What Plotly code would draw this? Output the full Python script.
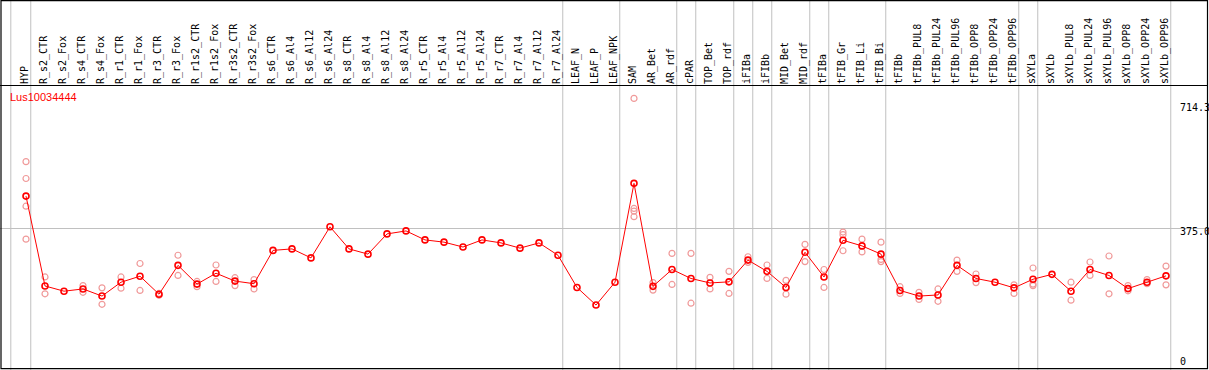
import plotly.graph_objects as go

categories = ["HYP", "R_s2_CTR", "R_s2_Fox", "R_s4_CTR", "R_s4_Fox", "R_r1_CTR", "R_r1_Fox",
              "R_r3_CTR", "R_r3_Fox", "R_r1s2_CTR", "R_r1s2_Fox", "R_r3s2_CTR", "R_r3s2_Fox",
              "R_s6_CTR", "R_s6_Al4", "R_s6_Al12", "R_s6_Al24", "R_s8_CTR", "R_s8_Al4",
              "R_s8_Al12", "R_s8_Al24", "R_r5_CTR", "R_r5_Al4", "R_r5_Al12", "R_r5_Al24",
              "R_r7_CTR", "R_r7_Al4", "R_r7_Al12", "R_r7_Al24", "LEAF_N", "LEAF_P", "LEAF_NPK",
              "SAM", "AR_Bet", "AR_rdf", "cPAR", "TOP_Bet", "TOP_rdf", "iFIBa", "iFIBb",
              "MID_Bet", "MID_rdf", "tFIBa", "tFIB_Gr", "tFIB_Li", "tFIB_Bi", "tFIBb",
              "tFIBb_PUL8", "tFIBb_PUL24", "tFIBb_PUL96", "tFIBb_OPP8", "tFIBb_OPP24",
              "tFIBb_OPP96", "sXYLa", "sXYLb", "sXYLb_PUL8", "sXYLb_PUL24", "sXYLb_PUL96",
              "sXYLb_OPP8", "sXYLb_OPP24", "sXYLb_OPP96"]

mean_values = [461, 221, 207, 213, 194, 231, 247, 199, 276, 226, 255, 234, 227,
               316, 320, 296, 379, 320, 306, 360, 368, 344, 338, 325, 344,
               336, 322, 336, 303, 217, 170, 231,
               495, 220, 265, 241, 229, 232, 290, 260, 217, 311, 245, 343, 328, 306,
               209, 194, 197, 276, 241, 231, 216,
               239, 252, 207, 265, 249, 214, 231, 248]

replicate_values = [[553, 508, 434, 346], [245, 200], [], [222, 204], [216, 172], [245, 215],
                    [281, 209], [201, 196], [303, 249], [219, 233], [277, 233], [243, 222],
                    [238, 213], [], [], [], [], [], [], [], [], [], [], [], [], [], [], [], [],
                    [], [], [],
                    [722, 428, 421, 406], [230, 210], [308, 225], [308, 175], [244, 213],
                    [260, 201], [299, 284], [277, 241], [236, 199], [332, 286], [265, 217],
                    [365, 358, 315], [346, 312], [338, 292, 286],
                    [219, 201], [204, 185], [213, 180], [290, 260], [253, 230], [], [224, 201],
                    [269, 226, 222], [], [231, 183], [285, 249], [301, 200], [222, 208],
                    [238, 227], [274, 224]]

# group separators (after these category positions)
separator_positions = [-0.8, 0.25, 28.25, 31.25, 34.25, 35.25, 37.25, 38.25, 39.25,
                       41.25, 42.25, 45.25, 52.25, 53.25, 60.25]

gene_name = "Lus10034444"
axis_labels = ["714.3", "375.0", "0"]

W, H = 1209, 370
HEADER = 86

rep_x, rep_y = [], []
for cat, reps in zip(categories, replicate_values):
    for v in reps:
        rep_x.append(cat)
        rep_y.append(v)

fig = go.Figure()
fig.add_trace(go.Scatter(
    x=rep_x, y=rep_y, mode="markers",
    marker=dict(symbol="circle-open", size=6, color="#f09a9a", line=dict(width=1.2, color="#f09a9a")),
    showlegend=False, hoverinfo="skip"))
fig.add_trace(go.Scatter(
    x=categories, y=mean_values, mode="lines+markers",
    line=dict(color="#ff0000", width=1),
    marker=dict(symbol="circle-open", size=6, color="#ff0000", line=dict(width=1.6, color="#ff0000")),
    showlegend=False))

shapes = []
for p in separator_positions:
    shapes.append(dict(type="line", xref="x", yref="paper", x0=p, x1=p, y0=0, y1=1,
                       line=dict(color="#c0c0c0", width=1), layer="below"))
# frame
shapes.append(dict(type="rect", xref="paper", yref="paper",
                   x0=1 / W, x1=1207.5 / W, y0=(H - 368.7) / H, y1=1 - 0.7 / H,
                   line=dict(color="black", width=1.2), layer="above"))
shapes.append(dict(type="line", xref="paper", yref="paper",
                   x0=0, x1=1207.5 / W, y0=(H - 85.5) / H, y1=(H - 85.5) / H,
                   line=dict(color="black", width=1.2), layer="above"))

annotations = [dict(text=gene_name, xref="paper", yref="paper", x=8 / W, y=1 - 97.5 / H,
                    xanchor="left", yanchor="middle", showarrow=False,
                    font=dict(family="Liberation Sans", size=11, color="#ff0000"))]
label_px = [107.3, 231.7, 361.7]
for t, py in zip(axis_labels, label_px):
    annotations.append(dict(text=t, xref="paper", yref="paper", x=1178 / W, y=1 - py / H,
                            xanchor="left", yanchor="middle", showarrow=False,
                            font=dict(family="DejaVu Sans Mono", size=10, color="black")))

y0_px, scale = 368.7, 0.3744
ymin = (y0_px - H) / scale
ymax = (y0_px - HEADER) / scale
xmin = -26 / 19
xmax = (W - 26) / 19

fig.update_layout(
    width=W, height=H, margin=dict(l=0, r=0, t=0, b=0),
    paper_bgcolor="white", plot_bgcolor="white",
    xaxis=dict(type="category", categoryorder="array", categoryarray=categories,
               range=[xmin, xmax], side="top", tickangle=-90, showgrid=False,
               zeroline=False, showline=False, ticks="",
               tickfont=dict(family="DejaVu Sans Mono", size=10, color="black"),
               ticklabelshift=-1, ticklabelstandoff=1),
    yaxis=dict(domain=[0, (H - HEADER) / H], range=[ymin, ymax], tickvals=[375],
               showticklabels=False, showgrid=True, gridcolor="#c0c0c0", gridwidth=1,
               zeroline=False, showline=False, ticks=""),
    shapes=shapes, annotations=annotations,
)

fig.write_html("out.html", config={"displayModeBar": False})

# remove the default page margin so the figure sits at the window's top-left corner
with open("out.html", "r", encoding="utf-8") as f:
    html = f.read()
html = html.replace("<head>", "<head><style>html,body{margin:0;padding:0;overflow:hidden;}</style>", 1)
with open("out.html", "w", encoding="utf-8") as f:
    f.write(html)
